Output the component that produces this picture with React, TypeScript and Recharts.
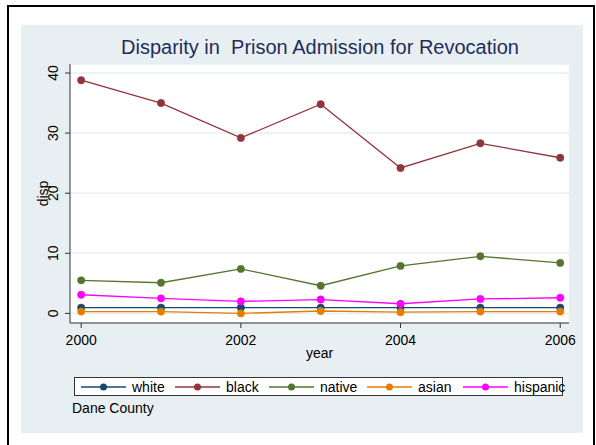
import { LineChart, Line, XAxis, YAxis, CartesianGrid } from "recharts";

const years = [2000, 2001, 2002, 2003, 2004, 2005, 2006];
const white = [0.95, 0.95, 0.95, 0.95, 0.95, 0.95, 0.95];
const black = [38.8, 35.0, 29.2, 34.8, 24.2, 28.3, 25.9];
const native = [5.5, 5.1, 7.4, 4.6, 7.9, 9.5, 8.4];
const asian = [0.3, 0.3, 0.0, 0.4, 0.2, 0.3, 0.3];
const hispanic = [3.1, 2.5, 2.0, 2.3, 1.6, 2.4, 2.6];

const xTicks = [2000, 2002, 2004, 2006];
const yTicks = [0, 10, 20, 30, 40];

const series = [
  { key: "white", color: "#1a476f", values: white },
  { key: "black", color: "#90353b", values: black },
  { key: "native", color: "#55752f", values: native },
  { key: "asian", color: "#e37e00", values: asian },
  { key: "hispanic", color: "#ff00ff", values: hispanic },
];

// legend item offsets inside the legend box
const legendLeft = [6, 100, 194, 292, 388];

const data = years.map((year, i) => {
  const row: Record<string, number> = { year };
  series.forEach((s) => {
    row[s.key] = s.values[i];
  });
  return row;
});

const FONT = "'Liberation Sans', Arial, Helvetica, sans-serif";

function YTick(props: any) {
  const { x, y, payload } = props;
  return (
    <text
      x={x}
      y={y}
      transform={`rotate(-90, ${x}, ${y})`}
      textAnchor="middle"
      fontSize={14}
      fontFamily={FONT}
      fill="#000"
    >
      {payload.value}
    </text>
  );
}

function DispLabel(props: any) {
  const { viewBox } = props;
  const x = viewBox.x + viewBox.width - 22;
  const y = viewBox.y + viewBox.height / 2;
  return (
    <text
      x={x}
      y={y}
      transform={`rotate(-90, ${x}, ${y})`}
      textAnchor="middle"
      fontSize={14}
      fontFamily={FONT}
      fill="#000"
    >
      disp
    </text>
  );
}

function LegendBox() {
  return (
    <div
      style={{
        position: "absolute",
        left: 74,
        top: 377,
        width: 487,
        height: 17,
        border: "1px solid #333",
        background: "#fff",
        fontFamily: FONT,
        fontSize: 14,
        color: "#000",
      }}
    >
      {series.map((s, i) => (
        <div
          key={s.key}
          style={{
            position: "absolute",
            left: legendLeft[i],
            top: 0,
            height: 17,
            display: "flex",
            alignItems: "center",
            whiteSpace: "nowrap",
          }}
        >
          <svg width={46} height={10} style={{ marginRight: 5 }}>
            <line x1={0} y1={5} x2={45} y2={5} stroke={s.color} strokeWidth={1.3} />
            <circle cx={22.5} cy={5} r={3.5} fill={s.color} />
          </svg>
          <span>{s.key}</span>
        </div>
      ))}
    </div>
  );
}

export default function App() {
  return (
    <div
      style={{
        position: "fixed",
        left: 0,
        top: 0,
        width: 596,
        height: 445,
        background: "#fff",
        overflow: "hidden",
        fontFamily: FONT,
      }}
    >
      <div
        style={{
          position: "absolute",
          left: 7,
          top: 5,
          width: 584,
          height: 460,
          border: "2px solid #000",
        }}
      />
      <div
        style={{
          position: "absolute",
          left: 21,
          top: 25,
          width: 562,
          height: 408,
          background: "#e8eff2",
        }}
      />
      <div
        style={{
          position: "absolute",
          left: 0,
          top: 36,
          width: 640,
          textAlign: "center",
          fontSize: 20,
          color: "#1e2d5a",
        }}
      >
        Disparity in&nbsp; Prison Admission for Revocation
      </div>
      <div style={{ position: "absolute", left: 0, top: 0 }}>
        <LineChart
          width={596}
          height={445}
          data={data}
          margin={{ top: 64, right: 27, bottom: 92, left: 20 }}
        >
          <CartesianGrid
            vertical={false}
            horizontal
            stroke="#e6eff1"
            strokeWidth={1.5}
            fill="#fff"
          />
          <XAxis
            dataKey="year"
            type="number"
            domain={[1999.86, 2006.11]}
            ticks={xTicks}
            allowDataOverflow
            tickSize={5}
            tickMargin={7}
            tick={{ fontSize: 14, fill: "#000", fontFamily: FONT }}
            tickLine={{ stroke: "#333" }}
            axisLine={{ stroke: "#333" }}
            height={30}
            label={{
              value: "year",
              position: "insideBottom",
              offset: -5,
              fontSize: 14,
              fill: "#000",
              fontFamily: FONT,
            }}
          />
          <YAxis
            type="number"
            domain={[-1.6, 41.5]}
            ticks={yTicks}
            allowDataOverflow
            width={50}
            tickSize={5}
            tickMargin={7}
            tick={<YTick />}
            tickLine={{ stroke: "#333" }}
            axisLine={{ stroke: "#333" }}
            label={<DispLabel />}
          />
          {series.map((s) => (
            <Line
              key={s.key}
              type="linear"
              dataKey={s.key}
              stroke={s.color}
              strokeWidth={1.3}
              dot={{ r: 3.7, fill: s.color, stroke: s.color, strokeWidth: 0.5 }}
              isAnimationActive={false}
            />
          ))}
        </LineChart>
      </div>
      <LegendBox />
      <div
        style={{
          position: "absolute",
          left: 72,
          top: 400,
          fontSize: 14,
          color: "#000",
        }}
      >
        Dane County
      </div>
    </div>
  );
}
